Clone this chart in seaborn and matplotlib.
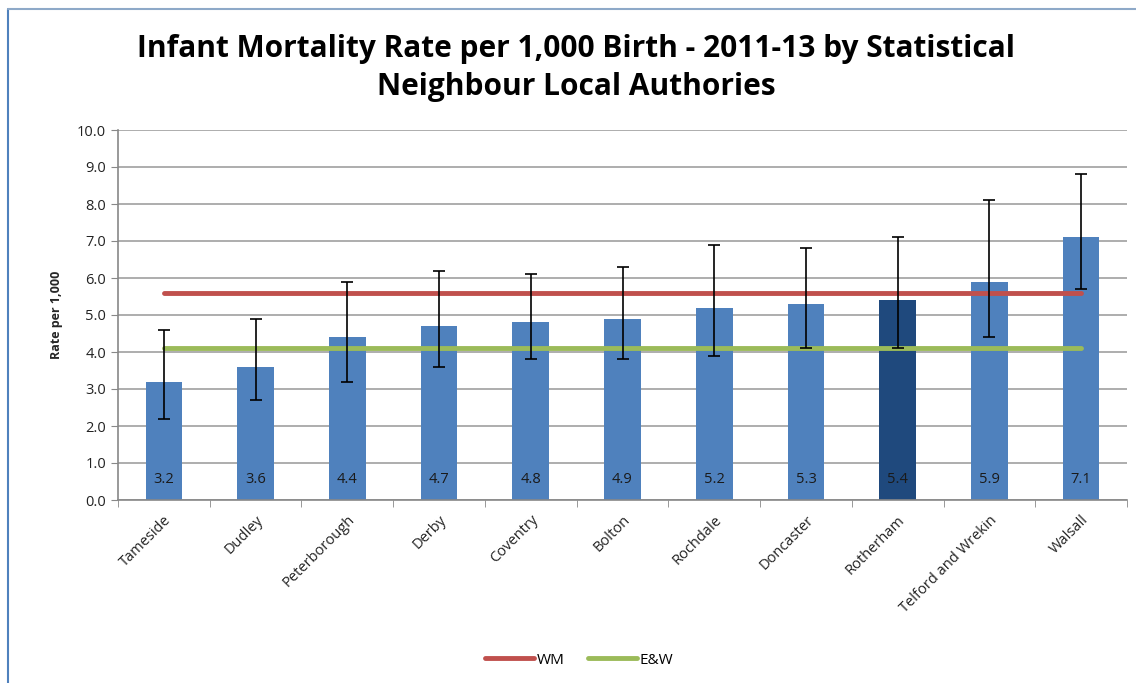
import matplotlib
matplotlib.use("Agg")
import matplotlib.pyplot as plt
import seaborn as sns
import numpy as np
import pandas as pd
from matplotlib.lines import Line2D

areas = ["Tameside", "Dudley", "Peterborough", "Derby", "Coventry", "Bolton",
         "Rochdale", "Doncaster", "Rotherham", "Telford and Wrekin", "Walsall"]
rates = [3.2, 3.6, 4.4, 4.7, 4.8, 4.9, 5.2, 5.3, 5.4, 5.9, 7.1]
lower_ci = [2.2, 2.7, 3.2, 3.6, 3.8, 3.8, 3.9, 4.1, 4.1, 4.4, 5.7]
upper_ci = [4.6, 4.9, 5.9, 6.2, 6.1, 6.3, 6.9, 6.8, 7.1, 8.1, 8.8]
wm_rate = 5.6
ew_rate = 4.1

sns.set_style("white")
plt.rcParams['font.family'] = ['Open Sans', 'DejaVu Sans']
plt.rcParams['text.color'] = 'black'
plt.rcParams['xtick.color'] = '#222222'
plt.rcParams['ytick.color'] = '#222222'

fig = plt.figure(figsize=(11.36, 6.83), dpi=100)
ax = fig.add_axes([118/1136, 1-500/683, (1127-118)/1136, 370/683])

df = pd.DataFrame({"area": areas, "rate": rates})
palette = {a: ("#1F497D" if a == "Rotherham" else "#4F81BD") for a in areas}
sns.barplot(data=df, x="area", y="rate", hue="area", palette=palette,
            legend=False, width=0.4, ax=ax, saturation=1, zorder=2, linewidth=0)

xs = np.arange(len(areas))
r = np.array(rates)
yerr = np.vstack([r - np.array(lower_ci), np.array(upper_ci) - r])
ax.errorbar(xs, r, yerr=yerr, fmt="none", ecolor="black", elinewidth=1.2,
            capsize=4, capthick=1.2, zorder=4)

ax.plot(xs, [wm_rate]*len(xs), color="#C0504D", lw=3.5, label="WM", zorder=3)
ax.plot(xs, [ew_rate]*len(xs), color="#9BBB59", lw=3.5, label="E&W", zorder=3)

for x, v in zip(xs, rates):
    ax.text(x, 0.55, f"{v:.1f}", ha="center", va="center", fontsize=10.5, color="#1a1a1a", zorder=5)

ax.set_ylim(0, 10)
ax.set_xlim(-0.5, len(areas) - 0.5)
ax.set_yticks(np.arange(0, 10.01, 1))
ax.set_yticklabels([f"{v:.1f}" for v in np.arange(0, 10.01, 1)], fontsize=10.5)
ax.yaxis.grid(True, color="#A0A0A0", lw=1.2, zorder=0)
ax.set_axisbelow(True)
ax.tick_params(axis="y", direction="out", length=5, color="#888888", left=True)
ax.set_xticks(xs)
ax.set_xticklabels(areas, rotation=45, ha="right", rotation_mode="anchor", fontsize=10.5)
ax.set_xticks(np.arange(-0.5, len(areas), 1), minor=True)
ax.tick_params(axis="x", which="major", length=0, pad=9)
ax.tick_params(axis="x", which="minor", direction="out", length=5, color="#888888", bottom=True)
ax.set_xlabel("")
ax.set_ylabel("Rate per 1,000", fontsize=9, fontweight="bold", labelpad=10)
for s in ["top", "right"]:
    ax.spines[s].set_visible(False)
for s in ["left", "bottom"]:
    ax.spines[s].set_color("#888888")
    ax.spines[s].set_linewidth(1.2)

fig.text(0.507, 1-68/683, "Infant Mortality Rate per 1,000 Birth - 2011-13 by Statistical\nNeighbour Local Authories",
         ha="center", va="center", fontsize=21.5, fontweight="bold", linespacing=1.38)

handles, labels = ax.get_legend_handles_labels()
fig.legend(handles, labels, loc="center", bbox_to_anchor=(0.51, 1-660/683), ncol=2,
           frameon=False, fontsize=11, handlelength=3.2, columnspacing=1.5, handletextpad=0.2)

fig.add_artist(Line2D([8/1136, 8/1136], [0, 1-9/683], transform=fig.transFigure,
                      color="#4F81BD", lw=1.5))
fig.add_artist(Line2D([8/1136, 1], [1-9/683, 1-9/683], transform=fig.transFigure,
                      color="#8EA9C8", lw=1.5))

fig.savefig("out.png", dpi=100)
